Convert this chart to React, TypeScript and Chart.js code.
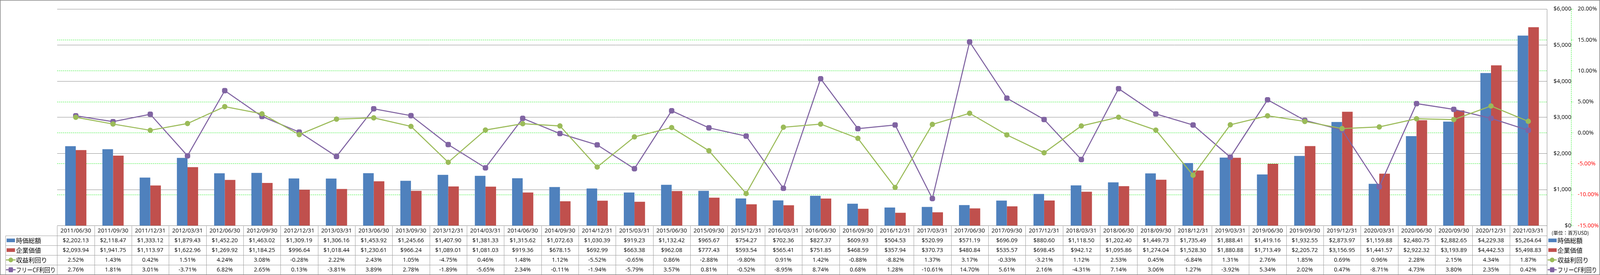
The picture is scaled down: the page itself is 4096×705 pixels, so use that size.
import React, { useEffect, useRef } from 'react';
import { Chart, registerables } from 'chart.js';

Chart.register(...registerables);

const S = 0.548;

const categories = [
  '2011/06/30', '2011/09/30', '2011/12/31', '2012/03/31', '2012/06/30', '2012/09/30', '2012/12/31', '2013/03/31',
  '2013/06/30', '2013/09/30', '2013/12/31', '2014/03/31', '2014/06/30', '2014/09/30', '2014/12/31', '2015/03/31',
  '2015/06/30', '2015/09/30', '2015/12/31', '2016/03/31', '2016/06/30', '2016/09/30', '2016/12/31', '2017/03/31',
  '2017/06/30', '2017/09/30', '2017/12/31', '2018/03/31', '2018/06/30', '2018/09/30', '2018/12/31', '2019/03/31',
  '2019/06/30', '2019/09/30', '2019/12/31', '2020/03/31', '2020/06/30', '2020/09/30', '2020/12/31', '2021/03/31',
];

const marketCap = [
  2202.13, 2118.47, 1333.12, 1879.43, 1452.2, 1463.02, 1309.19, 1306.16, 1453.92, 1245.66,
  1407.9, 1381.33, 1315.62, 1072.63, 1030.39, 919.23, 1132.42, 965.67, 754.27, 702.36,
  827.37, 609.93, 504.53, 520.99, 571.19, 696.09, 880.6, 1118.5, 1202.4, 1449.73,
  1735.49, 1888.41, 1419.16, 1932.55, 2873.97, 1159.88, 2480.75, 2882.65, 4229.38, 5264.64,
];

const enterpriseValue = [
  2093.94, 1941.75, 1113.97, 1622.96, 1269.92, 1184.25, 996.64, 1018.44, 1230.61, 966.24,
  1089.01, 1081.03, 919.36, 678.15, 692.99, 663.38, 962.08, 777.43, 593.54, 565.41,
  751.85, 468.59, 357.94, 370.73, 480.84, 535.57, 698.45, 942.12, 1095.86, 1274.04,
  1528.3, 1880.88, 1713.49, 2205.72, 3156.95, 1441.57, 2922.32, 3193.89, 4442.53, 5498.83,
];

const earningsYield = [
  2.52, 1.43, 0.42, 1.51, 4.24, 3.08, -0.28, 2.22, 2.43, 1.05,
  -4.75, 0.46, 1.48, 1.12, -5.52, -0.65, 0.86, -2.88, -9.8, 0.91,
  1.42, -0.88, -8.82, 1.37, 3.17, -0.33, -3.21, 1.12, 2.53, 0.45,
  -6.84, 1.31, 2.76, 1.85, 0.69, 0.96, 2.28, 2.15, 4.34, 1.87,
];

const fcfYield = [
  2.76, 1.81, 3.01, -3.71, 6.82, 2.65, 0.13, -3.81, 3.89, 2.78,
  -1.89, -5.65, 2.34, -0.11, -1.94, -5.79, 3.57, 0.81, -0.52, -8.95,
  8.74, 0.68, 1.28, -10.61, 14.7, 5.61, 2.16, -4.31, 7.14, 3.06,
  1.27, -3.92, 5.34, 2.02, 0.47, -8.71, 4.73, 3.8, 2.35, 0.42,
];

const seriesLabels = ['時価総額', '企業価値', '収益利回り', 'フリーCF利回り'];
const unitLabel = '(単位：百万USD)';

const moneyAxis = { min: 0, max: 6000, step: 1000 };
const pctAxis = { min: -15, max: 20, step: 5 };

const COLORS = {
  blue: '#4F81BD',
  red: '#C0504D',
  green: '#9BBB59',
  purple: '#8064A2',
  grid: '#8a8a8a',
  table: '#9d9d9d',
  dash: '#22ee22',
};

const DASH = [3, 2];

const LATIN = "'Open Sans', 'Noto Sans CJK JP', sans-serif";
const CJK = "'Noto Sans CJK JP', 'Open Sans', sans-serif";

const fmtMoney = (v: number) =>
  '$' + v.toLocaleString('en-US', { minimumFractionDigits: 2, maximumFractionDigits: 2 });
const fmtPct = (v: number) => v.toFixed(2) + '%';

function drawMarker(ctx: CanvasRenderingContext2D, kind: number, x0: number, x1: number, cy: number) {
  if (kind < 2) {
    ctx.fillStyle = kind === 0 ? COLORS.blue : COLORS.red;
    ctx.fillRect(x0 + 3 * S, cy - 8.5 * S, 39 * S, 17 * S);
    return;
  }
  const col = kind === 2 ? COLORS.green : COLORS.purple;
  ctx.strokeStyle = col;
  ctx.fillStyle = col;
  ctx.lineWidth = 5 * S;
  ctx.setLineDash([]);
  ctx.beginPath();
  ctx.moveTo(x0, cy);
  ctx.lineTo(x1, cy);
  ctx.stroke();
  const mx = (x0 + x1) / 2;
  if (kind === 2) {
    ctx.beginPath();
    ctx.arc(mx, cy, 11 * S, 0, Math.PI * 2);
    ctx.fill();
  } else {
    const w = 21 * S;
    const h = 23 * S;
    const r = 4 * S;
    ctx.beginPath();
    ctx.roundRect(mx - w / 2, cy - h / 2, w, h, r);
    ctx.fill();
  }
}

const tablePlugin = {
  id: 'dataTable',
  afterDraw(chart: any) {
    const { ctx, chartArea: ca, scales } = chart;
    const W = chart.width;
    const H = chart.height;
    const n = categories.length;
    const colW = (ca.right - ca.left) / n;
    const rows = [ca.bottom, 1102 * S, 1147 * S, 1193 * S, 1239 * S, 1285 * S];
    const legendLeft = 26 * S;
    const crisp = (v: number) => Math.round(v) + 0.5;

    ctx.save();
    ctx.strokeStyle = COLORS.table;
    ctx.lineWidth = 1;
    ctx.setLineDash([]);
    ctx.beginPath();
    for (let r = 1; r < rows.length; r++) {
      const y = crisp(rows[r]);
      ctx.moveTo(crisp(legendLeft), y);
      ctx.lineTo(crisp(ca.right), y);
    }
    for (let i = 0; i <= n; i++) {
      const x = crisp(ca.left + i * colW);
      ctx.moveTo(x, crisp(ca.bottom));
      ctx.lineTo(x, crisp(rows[5]));
    }
    ctx.moveTo(crisp(legendLeft), crisp(rows[1]));
    ctx.lineTo(crisp(legendLeft), crisp(rows[5]));
    ctx.stroke();

    ctx.strokeStyle = COLORS.grid;
    ctx.beginPath();
    ctx.moveTo(crisp(ca.right), crisp(ca.top));
    ctx.lineTo(crisp(ca.right), crisp(rows[5]));
    ctx.stroke();

    const y1 = scales.y1;
    ctx.strokeStyle = COLORS.dash;
    ctx.setLineDash(DASH);
    ctx.beginPath();
    ctx.moveTo(crisp(y1.left), ca.top);
    ctx.lineTo(crisp(y1.left), ca.bottom);
    ctx.stroke();
    ctx.setLineDash([]);

    ctx.fillStyle = '#000';
    ctx.textAlign = 'center';
    ctx.textBaseline = 'middle';
    ctx.font = `${27 * S}px ${LATIN}`;
    const rowData = [
      marketCap.map(fmtMoney),
      enterpriseValue.map(fmtMoney),
      earningsYield.map(fmtPct),
      fcfYield.map(fmtPct),
    ];
    for (let i = 0; i < n; i++) {
      const cx = scales.x.getPixelForValue(i);
      ctx.fillText(categories[i], cx, (rows[0] + rows[1]) / 2 + 0.5);
      for (let r = 0; r < 4; r++) {
        ctx.fillText(rowData[r][i], cx, (rows[r + 1] + rows[r + 2]) / 2 + 0.5);
      }
    }

    for (let r = 0; r < 4; r++) {
      const cy = (rows[r + 1] + rows[r + 2]) / 2;
      drawMarker(ctx, r, 28 * S, 73 * S, cy);
      drawMarker(ctx, r, 7230 * S, 7272 * S, cy);
      ctx.fillStyle = '#000';
      ctx.textAlign = 'left';
      ctx.font = `16px ${CJK}`;
      if (r === 3) {
        ctx.fillText(seriesLabels[r], 75 * S, cy + 0.5, 185 * S);
        ctx.fillText(seriesLabels[r], 7276 * S, cy + 0.5, 185 * S);
      } else {
        ctx.fillText(seriesLabels[r], 75 * S, cy + 0.5);
        ctx.fillText(seriesLabels[r], 7276 * S, cy + 0.5);
      }
    }

    ctx.font = `12.5px ${CJK}`;
    ctx.textAlign = 'left';
    ctx.fillText(unitLabel, 7248 * S, 1089 * S, 100);

    ctx.strokeStyle = '#868686';
    ctx.lineWidth = 1.5;
    ctx.strokeRect(0.75, 0.75, W - 1.5, H - 1.5);
    ctx.restore();
  },
};

export default function App() {
  const ref = useRef<HTMLCanvasElement | null>(null);

  useEffect(() => {
    document.body.style.margin = '0';
    const canvas = ref.current;
    if (!canvas) return;
    Chart.defaults.font.family = LATIN;

    const chart = new Chart(canvas, {
      type: 'bar',
      data: {
        labels: categories,
        datasets: [
          {
            type: 'line',
            label: seriesLabels[2],
            data: earningsYield,
            yAxisID: 'y1',
            borderColor: COLORS.green,
            backgroundColor: COLORS.green,
            pointBackgroundColor: COLORS.green,
            pointBorderColor: COLORS.green,
            borderWidth: 2.7,
            pointRadius: 5.5,
            pointStyle: 'circle',
            tension: 0,
            order: 0,
          },
          {
            type: 'line',
            label: seriesLabels[3],
            data: fcfYield,
            yAxisID: 'y1',
            borderColor: COLORS.purple,
            backgroundColor: COLORS.purple,
            pointBackgroundColor: COLORS.purple,
            pointBorderColor: COLORS.purple,
            borderWidth: 2.7,
            pointRadius: 6.5,
            pointStyle: 'rectRounded',
            tension: 0,
            order: 0,
          },
          {
            type: 'bar',
            label: seriesLabels[0],
            data: marketCap,
            yAxisID: 'y',
            backgroundColor: COLORS.blue,
            categoryPercentage: 0.57,
            barPercentage: 1,
            order: 1,
          },
          {
            type: 'bar',
            label: seriesLabels[1],
            data: enterpriseValue,
            yAxisID: 'y',
            backgroundColor: COLORS.red,
            categoryPercentage: 0.57,
            barPercentage: 1,
            order: 1,
          },
        ] as any,
      },
      options: {
        animation: false,
        responsive: false,
        devicePixelRatio: 1,
        layout: {
          padding: { left: 267 * S, top: 19 * S, right: 0, bottom: 705 - 1056 * S },
        },
        plugins: {
          legend: { display: false },
          tooltip: { enabled: false },
        },
        scales: {
          x: {
            type: 'category',
            display: false,
            offset: true,
          },
          y: {
            position: 'right',
            weight: 0,
            min: moneyAxis.min,
            max: moneyAxis.max,
            afterFit: (s: any) => {
              s.width = (7340 - 7226) * S;
            },
            border: { display: false },
            grid: {
              color: COLORS.grid,
              lineWidth: 1,
              drawTicks: false,
            },
            ticks: {
              stepSize: moneyAxis.step,
              padding: 14.5,
              crossAlign: 'far',
              color: '#000',
              font: { size: 14.6, family: LATIN },
              callback: (v: any) => '$' + Number(v).toLocaleString('en-US'),
            },
          },
          y1: {
            position: 'right',
            weight: 1,
            min: pctAxis.min,
            max: pctAxis.max,
            afterFit: (s: any) => {
              s.width = 4096 - 3960 - (7340 - 7226) * S;
            },
            border: { display: false, dash: DASH },
            grid: {
              color: (c: any) =>
                c.tick && (c.tick.value === pctAxis.max || c.tick.value === pctAxis.min)
                  ? 'rgba(0,0,0,0)'
                  : COLORS.dash,
              lineWidth: 1,
              drawTicks: true,
              tickLength: 10 * S,
              tickColor: COLORS.dash,
              tickBorderDash: DASH,
            },
            ticks: {
              stepSize: pctAxis.step,
              padding: 11,
              crossAlign: 'near',
              font: { size: 14.6, family: LATIN },
              color: (c: any) => (c.tick && c.tick.value < 0 ? '#FF0000' : '#000'),
              callback: (v: any) => Number(v).toFixed(2) + '%',
            },
          },
        } as any,
      },
      plugins: [tablePlugin],
    });

    return () => chart.destroy();
  }, []);

  return <canvas ref={ref} width={4096} height={705} style={{ display: 'block' }} />;
}
